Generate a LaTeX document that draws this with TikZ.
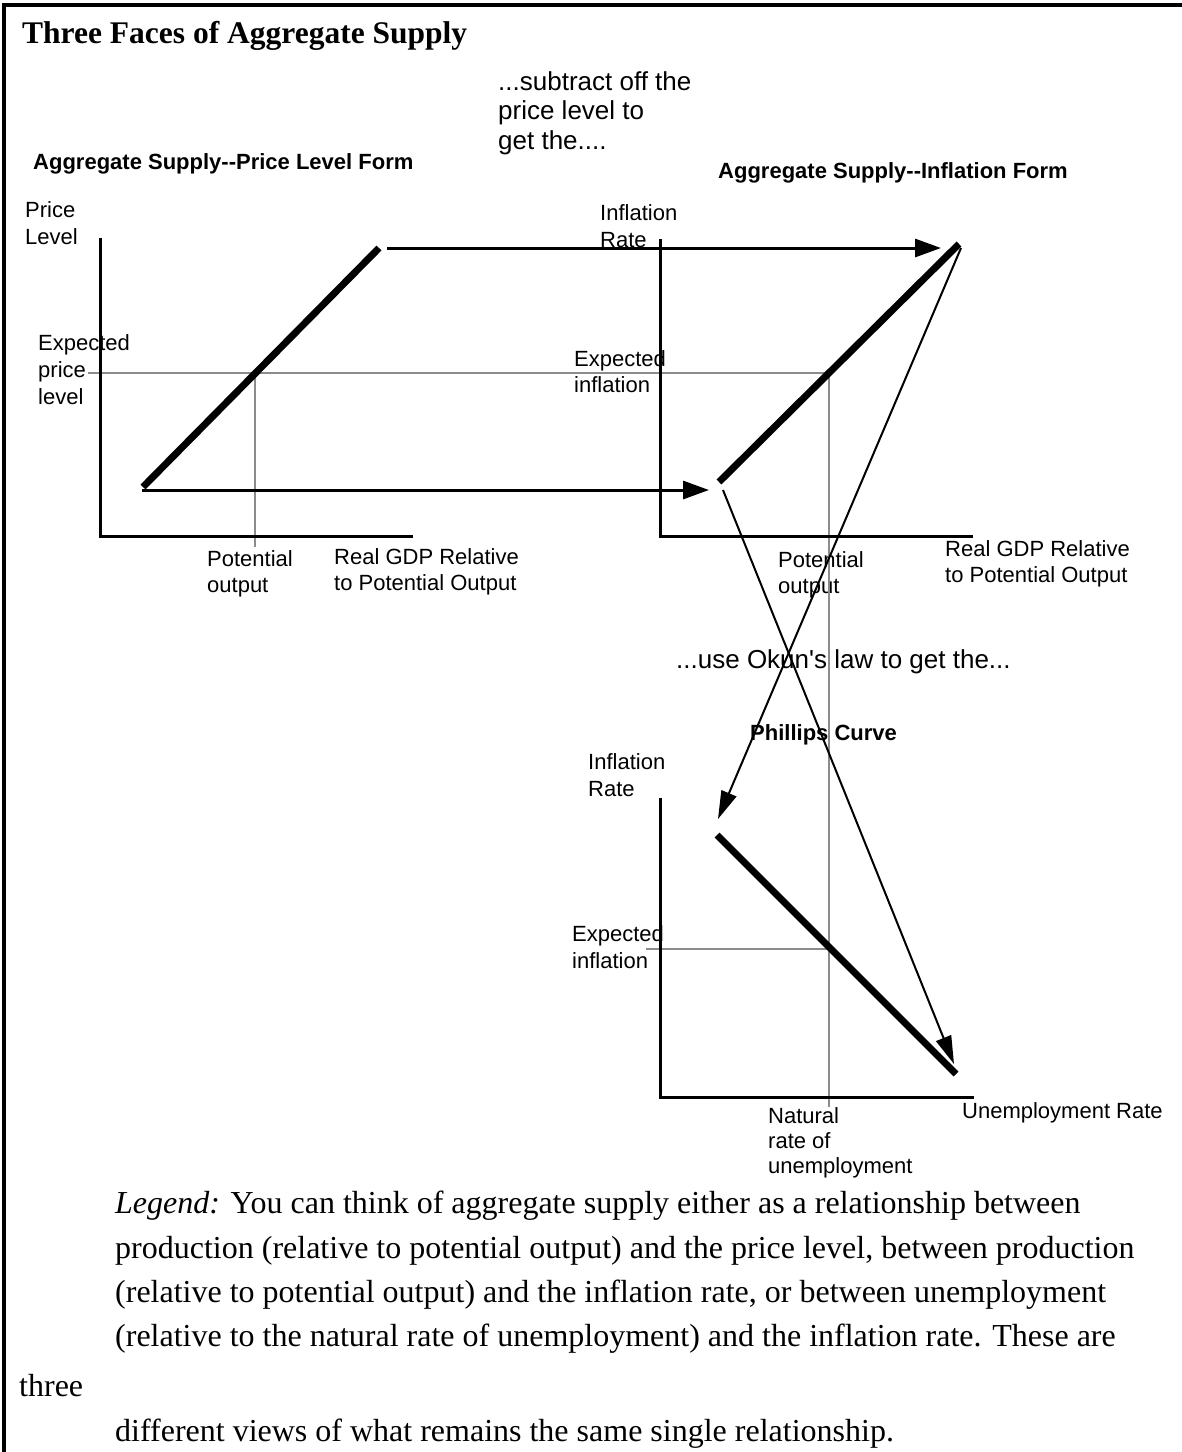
\documentclass[tikz,border=0pt]{standalone}
\usepackage{fontspec}
\setmainfont{Liberation Serif}
\setsansfont{Liberation Sans}
\usetikzlibrary{arrows.meta}
\definecolor{gline}{RGB}{140,140,140}
\newcommand{\twohyph}{\mbox{-}\mbox{-}}
\tikzset{
  lab/.style={font=\sffamily\fontsize{22}{26}\selectfont, inner sep=0pt, anchor=base west},
  blab/.style={font=\sffamily\bfseries\fontsize{22}{26}\selectfont, inner sep=0pt, anchor=base west},
  note/.style={font=\sffamily\fontsize{26}{30}\selectfont, inner sep=0pt, anchor=base west},
  leg/.style={font=\rmfamily\fontsize{32}{40}\selectfont, inner sep=0pt, anchor=base west},
  ttl/.style={font=\rmfamily\bfseries\fontsize{31.5}{36}\selectfont, inner sep=0pt, anchor=base west},
  axisline/.style={line width=3pt, line join=miter},
  curve/.style={line width=7pt},
  guide/.style={draw=gline, line width=2.5pt},
  flow/.style={line width=3pt, -{Triangle[length=26pt,width=18pt]}},
  okun/.style={line width=2pt, -{Triangle[length=28pt,width=16pt]}},
  frame/.style={line width=4pt}
}
\begin{document}
\begin{tikzpicture}[x=1pt,y=-1pt]
\useasboundingbox (0,0) rectangle (1182,1452);
% frame
\coordinate (fa) at (4,1452);
\coordinate (fb) at (4,5);
\coordinate (fc) at (1182,5);
\draw[frame] (fa) -- (fb) -- (fc);

% title and notes
\node[ttl] (title) at (22,43.5) {Three Faces of Aggregate Supply};
\node[note] (sub1) at (498,90) {...subtract off the};
\node[note] (sub2) at (498,119.5) {price level to};
\node[note] (sub3) at (498,149) {get the....};
\node[note] (okuntxt) at (676,668) {...use Okun\textquotesingle s law to get the...};

% left panel texts
\node[blab] (tL) at (33,169) {Aggregate Supply\twohyph Price Level Form};
\node[lab] (pl1) at (25,217) {Price};
\node[lab] (pl2) at (25,244) {Level};
\node[lab] (ep1) at (38,350) {Expected};
\node[lab] (ep2) at (38,377) {price};
\node[lab] (ep3) at (38,404) {level};
\node[lab] (po1) at (207,566) {Potential};
\node[lab] (po2) at (207,592) {output};
\node[lab] (rg1) at (334,564) {Real GDP Relative};
\node[lab] (rg2) at (334,590) {to Potential Output};

% right panel texts
\node[blab] (tR) at (718,178) {Aggregate Supply\twohyph Inflation Form};
\node[lab] (ir1) at (600,220) {Inflation};
\node[lab] (ir2) at (600,247) {Rate};
\node[lab] (ei1) at (574,366) {Expected};
\node[lab] (ei2) at (574,392) {inflation};
\node[lab] (po3) at (778,567) {Potential};
\node[lab] (po4) at (778,593) {output};
\node[lab] (rg3) at (945,556) {Real GDP Relative};
\node[lab] (rg4) at (945,582) {to Potential Output};

% Phillips texts
\node[blab] (tP) at (750,740) {Phillips Curve};
\node[lab] (ir3) at (588,769) {Inflation};
\node[lab] (ir4) at (588,796) {Rate};
\node[lab] (ei3) at (572,941) {Expected};
\node[lab] (ei4) at (572,968) {inflation};
\node[lab] (nr1) at (768,1123) {Natural};
\node[lab] (nr2) at (768,1148) {rate of};
\node[lab] (nr3) at (768,1173) {unemployment};
\node[lab] (ur) at (962,1118) {Unemployment Rate};

% legend
\node[leg] (lg1) at (115,1213) {\textit{Legend:} You can think of aggregate supply either as a relationship between};
\node[leg] (lg2) at (115,1258) {production (relative to potential output) and the price level, between production};
\node[leg] (lg3) at (115,1302) {(relative to potential output) and the inflation rate, or between unemployment};
\node[leg] (lg4) at (115,1346) {(relative to the natural rate of unemployment) and the inflation rate. These are};
\node[leg] (lg5) at (19,1396) {three};
\node[leg] (lg6) at (115,1441) {different views of what remains the same single relationship.};

% coordinates: left panel
\coordinate (Ly) at (100,238);
\coordinate (Lo) at (100,536);
\coordinate (Lx) at (413,536);
\coordinate (La) at (143,487);
\coordinate (Lb) at (379,248);
\coordinate (Lg0) at (88,373);
\coordinate (Lgv) at (255,373);
\coordinate (Lgb) at (255,547);
% right panel
\coordinate (Ry) at (660,239);
\coordinate (Ro) at (660,536);
\coordinate (Rx) at (973,536);
\coordinate (Ra) at (719,482);
\coordinate (Rb) at (959,244);
\coordinate (Rg) at (829,373);
\coordinate (Rgb) at (829,1107);
% Phillips panel
\coordinate (Py) at (660,798);
\coordinate (Po) at (660,1097);
\coordinate (Px) at (974,1097);
\coordinate (Pa) at (717,835);
\coordinate (Pb) at (956,1074);
\coordinate (Pg0) at (646,949);
\coordinate (Pg) at (829,949);
% arrow ends
\coordinate (A1s) at (387,248);
\coordinate (A1e) at (941,248);
\coordinate (A2s) at (142,490);
\coordinate (A2e) at (709,490);
\coordinate (A3s) at (961,248);
\coordinate (A3e) at (718,819);
\coordinate (A4s) at (723,490);
\coordinate (A4e) at (954,1064);

% guides
\draw[guide] (Lg0) -- (Rg);
\draw[guide] (Lgv) -- (Lgb);
\draw[guide] (Rg) -- (Rgb);
\draw[guide] (Pg0) -- (Pg);

% axes
\draw[axisline] (Ly) -- (Lo) -- (Lx);
\draw[axisline] (Ry) -- (Ro) -- (Rx);
\draw[axisline] (Py) -- (Po) -- (Px);

% curves
\draw[curve] (La) -- (Lb);
\draw[curve] (Ra) -- (Rb);
\draw[curve] (Pa) -- (Pb);

% arrows
\draw[flow] (A1s) -- (A1e);
\draw[flow] (A2s) -- (A2e);
\draw[okun] (A3s) -- (A3e);
\draw[okun] (A4s) -- (A4e);
\end{tikzpicture}
\end{document}
